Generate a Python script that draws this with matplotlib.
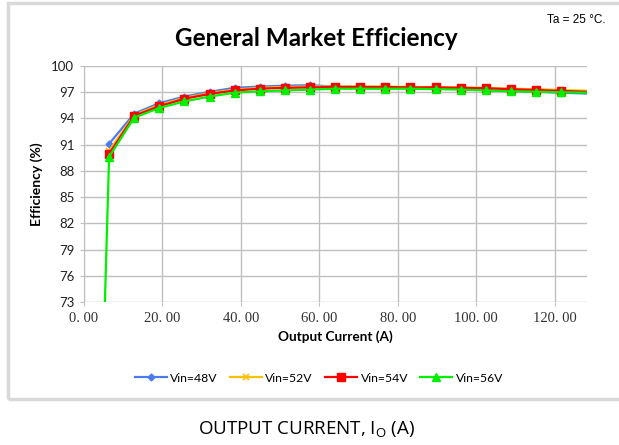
import numpy as np
import matplotlib.pyplot as plt
from matplotlib.patches import Rectangle

# output current (A), one point every 6.4 A
current = [6.4, 12.8, 19.2, 25.6, 32.0, 38.4, 44.8, 51.2, 57.6, 64.0,
           70.4, 76.8, 83.2, 89.6, 96.0, 102.4, 108.8, 115.2, 121.6, 134.4]
eff_48 = [91.1, 94.55, 95.75, 96.5, 97.05, 97.5, 97.65, 97.75, 97.8, 97.65,
          97.6, 97.55, 97.5, 97.45, 97.35, 97.25, 97.15, 97.05, 96.95, 96.75]
eff_52 = [90.3, 94.4, 95.55, 96.35, 96.9, 97.3, 97.5, 97.6, 97.65, 97.65,
          97.65, 97.65, 97.6, 97.6, 97.55, 97.5, 97.4, 97.35, 97.25, 97.1]
eff_54 = [89.95, 94.3, 95.4, 96.25, 96.8, 97.2, 97.4, 97.5, 97.55, 97.6,
          97.6, 97.6, 97.55, 97.55, 97.5, 97.45, 97.35, 97.25, 97.15, 96.95]
# 56V series starts with a zero point near the origin
current_56 = [0.6] + current
eff_56 = [0.0, 89.6, 94.1, 95.2, 95.95, 96.5, 96.95, 97.1, 97.2, 97.3, 97.4,
          97.4, 97.4, 97.4, 97.35, 97.3, 97.2, 97.1, 97.05, 97.0, 96.9]

x_ticks = [0, 20, 40, 60, 80, 100, 120]
x_tick_labels = ['0. 00', '20. 00', '40. 00', '60. 00', '80. 00', '100. 00', '120. 00']
y_ticks = [73, 76, 79, 82, 85, 88, 91, 94, 97, 100]

fig = plt.figure(figsize=(6.19, 4.45), dpi=100)
ax = fig.add_axes([84 / 619, 1 - 302 / 445, 503 / 619, 236 / 445])

ax.plot(current, eff_48, color='#4a7bf0', lw=1.6, marker='D', ms=3.5, label='Vin=48V')
ax.plot(current, eff_52, color='#ffc000', lw=1.6, marker='x', ms=5, mew=1.2, label='Vin=52V')
ax.plot(current, eff_54, color='#ff0000', lw=1.6, marker='s', ms=6, label='Vin=54V')
ax.plot(current_56, eff_56, color='#00f000', lw=1.6, marker='^', ms=6, label='Vin=56V')

ax.set_xlim(0, 128.2)
ax.set_ylim(73, 100)
ax.set_xticks(x_ticks)
ax.set_xticklabels(x_tick_labels, fontfamily='Liberation Serif', fontsize=10.5, color='#333333')
ax.set_yticks(y_ticks)
ax.set_yticklabels([str(v) for v in y_ticks], fontfamily='Lato', fontsize=9.5, color='#222222')
ax.grid(True, color='#bfbfbf', lw=1)
ax.set_axisbelow(True)
for s in ['top', 'right', 'bottom']:
    ax.spines[s].set_visible(False)
ax.spines['left'].set_color('#bfbfbf')
ax.tick_params(axis='both', color='#bfbfbf', length=3, pad=4)

ax.set_xlabel('Output Current (A)', fontfamily='Lato', fontweight='bold', fontsize=9.8, labelpad=4)
ax.set_ylabel('Efficiency (%)', fontfamily='Lato', fontweight='bold', fontsize=10, labelpad=6)

fig.text(316 / 619, 1 - 38 / 445, 'General Market Efficiency', ha='center', va='center',
         fontfamily='Lato', fontweight='bold', fontsize=17.5)
fig.text(606 / 619, 1 - 20 / 445, 'Ta = 25 °C.', ha='right', va='center',
         fontfamily='Liberation Sans', fontsize=8.5)

ax.legend(loc='center', bbox_to_anchor=(319 / 619, 1 - 378 / 445), bbox_transform=fig.transFigure,
          ncol=4, frameon=False, prop={'family': 'Lato', 'size': 8.8},
          handlelength=2.6, handletextpad=0.3, columnspacing=1.0)

# light gray frame around the chart area
fig.patches.append(Rectangle((8 / 619, 1 - 399 / 445), 0.999, 396 / 445,
                             transform=fig.transFigure, fill=False,
                             edgecolor='#d9d9d9', lw=2.5))

fig.text(307 / 619, 1 - 430 / 445, r'OUTPUT CURRENT, I$_\mathregular{O}$ (A)', ha='center', va='center',
         fontfamily='Open Sans', fontsize=13.5)

fig.savefig('out.png', dpi=100)
